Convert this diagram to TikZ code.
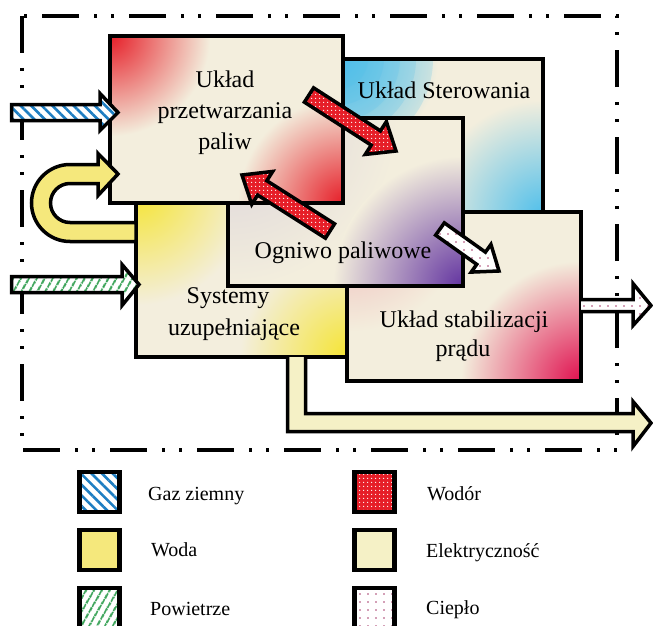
\documentclass[tikz,border=0pt]{standalone}
\usepackage{fontspec}
\setmainfont{Liberation Serif}
\usetikzlibrary{calc,patterns.meta}
\definecolor{cream}{HTML}{F3EEDD}
\definecolor{hred}{HTML}{E61E28}
\definecolor{hblue}{HTML}{4FBFEB}
\definecolor{purp}{HTML}{6233A0}
\definecolor{graylil}{HTML}{D8D0DA}
\definecolor{ybox}{HTML}{F5E430}
\definecolor{crim}{HTML}{E0104F}
\definecolor{pinkl}{HTML}{F0B0B4}
\definecolor{stripeblue}{HTML}{1E7EC2}
\definecolor{stripegreen}{HTML}{2E9E4E}
\definecolor{woda}{HTML}{F5E87C}
\definecolor{elec}{HTML}{F5F1C6}
\definecolor{dotpink}{HTML}{A8406E}
\newcommand\blockarr[6]{%
  \coordinate (#2-hb) at ($(#3)!#6!(#2)$);
  \draw[#1] ($(#2)!#4!90:(#3)$) -- ($(#2-hb)!#4!90:(#3)$) -- ($(#2-hb)!#5!90:(#3)$) -- (#3)
    -- ($(#2-hb)!#5!-90:(#3)$) -- ($(#2-hb)!#4!-90:(#3)$) -- ($(#2)!#4!-90:(#3)$) -- cycle;}
% name, cx, cy, width, height, TL colour, TL radius, BR colour, BR radius
\newcommand\glowbox[9]{%
  \node[box, minimum width=#4, minimum height=#5] (#1) at (#2,#3) {};
  \begin{scope}
    \clip (#1.north west) rectangle (#1.south east);
    \shade[inner color=#6, outer color=cream] (#1.north west) circle[radius=#7];
    \shade[inner color=#8, outer color=cream] (#1.south east) circle[radius=#9];
  \end{scope}
  \draw[line width=3.5pt] (#1.north west) rectangle (#1.south east);}
\tikzset{
  box/.style={fill=cream, rectangle, inner sep=0pt, outer sep=0pt},
  btext/.style={anchor=base, inner sep=0pt, font=\fontsize{24}{30}\selectfont},
  ltext/.style={anchor=base west, inner sep=0pt, font=\fontsize{20}{24}\selectfont},
  legsq/.style={draw, line width=4.5pt, rectangle, inner sep=0pt, minimum size=40pt},
  arr/.style={draw, line width=3.5pt, line join=miter},
  gasfill/.style={preaction={fill=white}, pattern={Lines[angle=-45,distance=7.5pt,line width=2.6pt]}, pattern color=stripeblue},
  airfill/.style={preaction={fill=white}, pattern={Lines[angle=60,distance=6.5pt,line width=2.2pt]}, pattern color=stripegreen},
  h2fill/.style={preaction={fill=hred}, pattern={Dots[radius=0.8pt,distance=4pt]}, pattern color=white},
  heatfill/.style={preaction={fill=white}, pattern={Dots[radius=0.9pt,distance=8pt]}, pattern color=dotpink},
  waterfill/.style={fill=woda},
  elecfill/.style={fill=elec},
  glowstep/.style={fill=hblue, fill opacity=0.2},
}
\begin{document}
\begin{tikzpicture}[x=1pt,y=-1pt]
\useasboundingbox (0,0) rectangle (653,626);
% system border
\draw[line width=3.5pt, dash pattern=on 37pt off 15pt on 3pt off 14pt on 3pt off 15pt] (22,16) rectangle (617,450);
% boxes (back to front)
\glowbox{b2}{440.5}{137}{205pt}{156pt}{hblue}{100pt}{hblue}{115pt}
\begin{scope}
  \clip (b2.north west) rectangle (b2.south east);
  \fill[glowstep] (b2.north west) circle[radius=95pt];
  \fill[glowstep] (b2.north west) circle[radius=78pt];
  \fill[glowstep] (b2.north west) circle[radius=62pt];
  \fill[glowstep] (b2.north west) circle[radius=46pt];
  \fill[glowstep] (b2.north west) circle[radius=30pt];
\end{scope}
\draw[line width=3.5pt] (b2.north west) rectangle (b2.south east);
\glowbox{b4}{243}{273.5}{214pt}{167pt}{ybox}{115pt}{ybox}{110pt}
\glowbox{b5}{464}{296.5}{234pt}{169pt}{pinkl}{120pt}{crim}{120pt}
\glowbox{b3}{345.5}{202}{235pt}{168pt}{graylil}{170pt}{purp}{130pt}
\glowbox{b1}{226.5}{119.5}{233pt}{167pt}{hred}{100pt}{hred}{105pt}
% texts
\node[btext] (t1a) at (225,87) {Układ};
\node[btext] (t1b) at (225,118) {przetwarzania};
\node[btext] (t1c) at (225,149) {paliw};
\node[btext] (t2) at (444,98) {Układ Sterowania};
\node[btext] (t3) at (343,258) {Ogniwo paliwowe};
\node[btext] (t4a) at (228,303) {Systemy};
\node[btext] (t4b) at (234,335) {uzupełniające};
\node[btext] (t5a) at (464,327) {Układ stabilizacji};
\node[btext] (t5b) at (463,356) {prądu};
% inner arrows
\coordinate (r1a) at (309,95); \coordinate (r1b) at (396,151);
\blockarr{arr,h2fill}{r1a}{r1b}{8.5pt}{19.5pt}{24pt}
\coordinate (r2a) at (330,231); \coordinate (r2b) at (242,175);
\blockarr{arr,h2fill}{r2a}{r2b}{8.5pt}{19.5pt}{24pt}
\coordinate (w1a) at (440,229); \coordinate (w1b) at (499,271);
\blockarr{arr,heatfill}{w1a}{w1b}{7.5pt}{17pt}{22pt}
% gas inlet
\draw[arr,gasfill] (11.5,104.5) -- (100,104.5) -- (100,93.5) -- (118,112.5) -- (100,130.5) -- (100,120.5) -- (11.5,120.5) -- cycle;
% air inlet
\draw[arr,airfill] (11.5,276.5) -- (122,276.5) -- (122,264.5) -- (139,284.5) -- (122,305.5) -- (122,292.5) -- (11.5,292.5) -- cycle;
% water loop
\draw[arr,waterfill] (136,222.5) -- (70,222.5) arc[start angle=90,end angle=270,radius=19.5] -- (98,183.5) -- (98,195.5) -- (118,174) -- (98,153.5) -- (98,164.5) -- (70,164.5) arc[start angle=270,end angle=90,radius=38.5] -- (136,241.5) -- cycle;
% heat outlet
\draw[arr,heatfill] (b5.east |- 0,299.5) -- (633,299.5) -- (633,283.5) -- (651,305.5) -- (633,325.5) -- (633,311.5) -- (b5.east |- 0,311.5);
% electricity outlet
\draw[arr,elecfill] (287.5,357) -- (287.5,431.5) -- (633,431.5) -- (633,446.5) -- (651,423) -- (633,401.5) -- (633,413.5) -- (305.5,413.5) -- (305.5,357);
% legend
\node[legsq, gasfill] (l1) at (99.5,492) {};
\node[legsq, waterfill] (l2) at (99.5,550) {};
\node[legsq, airfill] (l3) at (99.5,608) {};
\node[legsq, h2fill] (l4) at (374.5,492) {};
\node[legsq, elecfill] (l5) at (374.5,550) {};
\node[legsq, heatfill] (l6) at (374.5,608) {};
\node[ltext] (g1) at (148,500) {Gaz ziemny};
\node[ltext] (g2) at (151,556) {Woda};
\node[ltext] (g3) at (150,615) {Powietrze};
\node[ltext] (g4) at (427,500) {Wodór};
\node[ltext] (g5) at (426,557) {Elektryczność};
\node[ltext] (g6) at (426,614) {Ciepło};
\end{tikzpicture}
\end{document}
